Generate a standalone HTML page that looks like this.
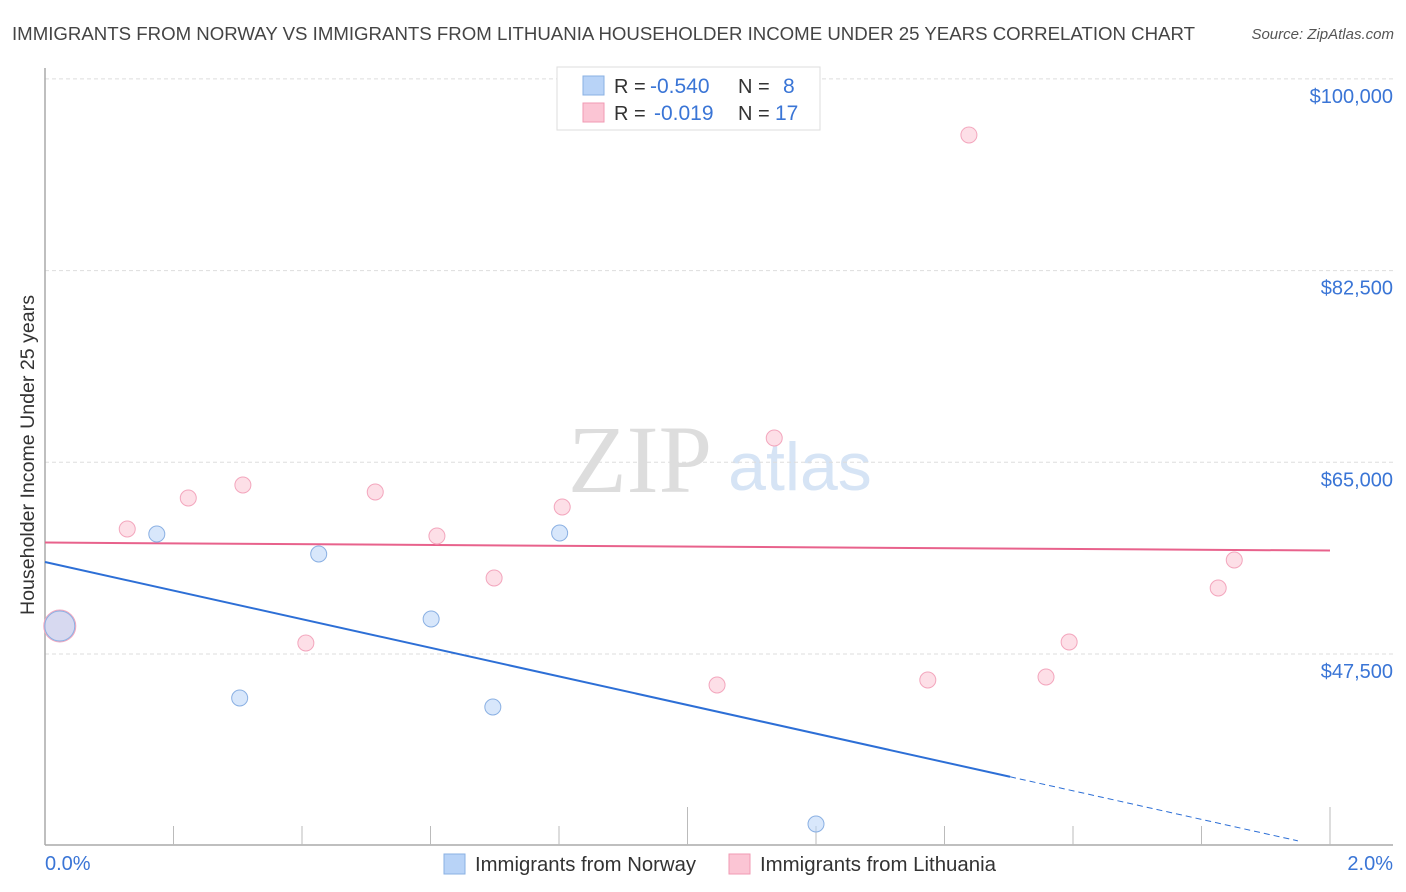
<!DOCTYPE html>
<html><head><meta charset="utf-8"><style>
html,body{margin:0;padding:0;background:#fff;width:1406px;height:892px;overflow:hidden;font-family:"Liberation Sans",sans-serif}
svg{position:absolute;left:0;top:0}
</style></head><body>
<svg id="chart" width="1406" height="892">
<text x="12" y="40" font-size="18" fill="#444" textLength="1183" lengthAdjust="spacingAndGlyphs">IMMIGRANTS FROM NORWAY VS IMMIGRANTS FROM LITHUANIA HOUSEHOLDER INCOME UNDER 25 YEARS CORRELATION CHART</text>
<text x="1394" y="39" font-size="15" fill="#555" font-style="italic" text-anchor="end">Source: ZipAtlas.com</text>
<text x="640" y="492" font-size="96" fill="#ddd" font-family="Liberation Serif,serif" text-anchor="middle">ZIP</text>
<text x="800" y="490" font-size="68" fill="#d6e4f5" text-anchor="middle">atlas</text>
<text transform="translate(34,455) rotate(-90)" font-size="19" fill="#333" text-anchor="middle" textLength="320" lengthAdjust="spacingAndGlyphs">Householder Income Under 25 years</text>
<g id="grid"></g><g id="lines"></g><g id="pts"></g>
<g>
<rect x="557" y="67" width="263" height="63" fill="#fff" stroke="#ddd"/>
<rect x="583" y="76" width="21" height="19" fill="#b8d3f7" stroke="#8ab0e3"/>
<rect x="583" y="103" width="21" height="19" fill="#fbc5d4" stroke="#f09ab3"/>
<text x="614" y="93" font-size="20" fill="#333">R = <tspan x="650" fill="#3a75d6" font-size="21">-0.540</tspan><tspan x="738">N = </tspan><tspan x="783" fill="#3a75d6" font-size="21">8</tspan></text>
<text x="614" y="120" font-size="20" fill="#333">R = <tspan x="654" fill="#3a75d6" font-size="21">-0.019</tspan><tspan x="738">N = </tspan><tspan x="775" fill="#3a75d6" font-size="21">17</tspan></text>
</g>
<g>
<rect x="444" y="854" width="21" height="20" fill="#b8d3f7" stroke="#8ab0e3"/>
<text x="475" y="871" font-size="20" fill="#333" textLength="221" lengthAdjust="spacingAndGlyphs">Immigrants from Norway</text>
<rect x="729" y="854" width="21" height="20" fill="#fbc5d4" stroke="#f09ab3"/>
<text x="760" y="871" font-size="20" fill="#333" textLength="236" lengthAdjust="spacingAndGlyphs">Immigrants from Lithuania</text>
</g>
</svg>
<script>
const yTicks=[47500,65000,82500,100000];
const yTickLabels=["$47,500","$65,000","$82,500","$100,000"];
const xTickLabels=["0.0%","2.0%"];
const norwayX=[0.023,0.174,0.303,0.426,0.601,0.697,0.801,1.200];
const norwayY=[50056,58455,43483,56629,50695,42662,58546,31981];
const lithX=[0.023,0.128,0.223,0.308,0.406,0.514,0.610,0.699,0.805,1.135,1.046,1.438,1.374,1.558,1.594,1.826,1.851];
const lithY=[50056,58911,61741,62928,48504,62289,58272,54438,60920,67219,44670,94880,45126,45400,48595,53525,56081];
const norwayTrend=[55899,29790];
const lithTrend=[57673,56943];
const NS="http://www.w3.org/2000/svg";
const xs=p=>45+p/2*1285;
const ys=v=>654-(v-47500)/17500*191.7;
function mk(tag,attrs,parent){const e=document.createElementNS(NS,tag);for(const k in attrs)e.setAttribute(k,attrs[k]);document.getElementById(parent).appendChild(e);return e;}
yTicks.forEach((t,i)=>{
 const g=mk('line',{x1:45,x2:1393,y1:ys(t),y2:ys(t),stroke:'#ddd','stroke-dasharray':'4,3'},'grid');
 
 
 const l=mk('text',{x:1393,y:ys(t)+24,'font-size':20,fill:'#3a75d6','text-anchor':'end'},'grid');
 l.textContent=yTickLabels[i];
 
 
});
const ax=mk('line',{x1:45,x2:45,y1:68,y2:845,stroke:'#aaa','stroke-width':1.5},'grid');


const bx=mk('line',{x1:45,x2:1393,y1:845,y2:845,stroke:'#aaa','stroke-width':1.5},'grid');


for(let i=1;i<=10;i++){
 const p=i*0.2;const tall=(i==5||i==10);
 const t=mk('line',{x1:xs(p),x2:xs(p),y1:tall?807:826,y2:845,stroke:'#bbb'},'grid');
 
 
}
[[0,45,'start'],[2,1393,'end']].forEach((a,i)=>{
 const l=mk('text',{x:a[1],y:870,'font-size':20,fill:'#3a75d6','text-anchor':a[2]},'grid');
 l.textContent=xTickLabels[i];
 
 
});
const nSolidEnd=1.502;
const nAt=p=>norwayTrend[0]+(norwayTrend[1]-norwayTrend[0])*p/2;
const n1=mk('line',{x1:xs(0),y1:ys(nAt(0)),x2:xs(nSolidEnd),y2:ys(nAt(nSolidEnd)),stroke:'#2d6fd6','stroke-width':2},'lines');


const n2=mk('line',{x1:xs(nSolidEnd),y1:ys(nAt(nSolidEnd)),x2:xs(1.95),y2:ys(nAt(1.95)),stroke:'#2d6fd6','stroke-width':1,'stroke-dasharray':'6,4'},'lines');


const l1=mk('line',{x1:xs(0),y1:ys(lithTrend[0]),x2:xs(2),y2:ys(lithTrend[1]),stroke:'#e8628c','stroke-width':2},'lines');


lithX.forEach((x,i)=>{
 const c=mk('circle',{cx:xs(x),cy:ys(lithY[i]),r:i==0?16:8,fill:'rgba(251,197,212,0.55)',stroke:'#f3a6bd','stroke-width':1},'pts');
 
 
});
norwayX.forEach((x,i)=>{
 const c=mk('circle',{cx:xs(x),cy:ys(norwayY[i]),r:i==0?15:8,fill:'rgba(184,211,247,0.55)',stroke:'#8ab0e3','stroke-width':1},'pts');
 
 
});
</script>
</body></html>
